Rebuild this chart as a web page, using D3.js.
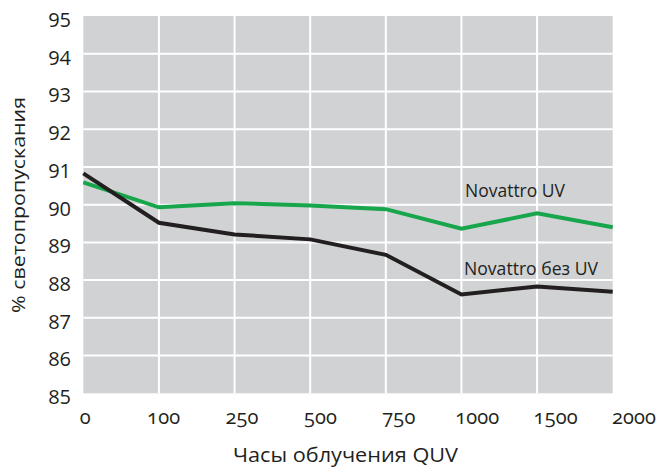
<!DOCTYPE html>
<html><head><meta charset="utf-8">
<script src="https://cdn.jsdelivr.net/npm/d3@7"></script>
<style>
body{margin:0;background:#fff;}
svg text{font-family:"Open Sans",sans-serif;fill:#231f20;}
.xt text{font-variant-numeric:oldstyle-nums;font-feature-settings:"onum" 1;}
</style></head>
<body><svg id="c" width="662" height="469"></svg>
<script>
const categories = ["0","100","250","500","750","1000","1500","2000"];
const novattroUV = [90.59, 89.93, 90.04, 89.98, 89.88, 89.36, 89.77, 89.40];
const novattroNoUV = [90.83, 89.52, 89.21, 89.08, 88.67, 87.62, 87.83, 87.69];
const yTicks = [85,86,87,88,89,90,91,92,93,94,95];
const seriesNames = ["Novattro UV", "Novattro без UV"];
const yTitle = "% светопропускания";
const xTitle = "Часы облучения QUV";

const svg = d3.select("#c");
const L = 83.3, R = 612.7, T = 16, B = 393.3;
const x = d3.scalePoint().domain(categories).range([L, R]);
const xl = d3.scalePoint().domain(categories).range([84.7, 633.5]);
const y = d3.scaleLinear().domain([85, 95]).range([B, T]);

svg.append("rect").attr("x", L).attr("y", T).attr("width", R - L).attr("height", B - T).attr("fill", "#d1d2d4");

// grid
svg.append("g").selectAll("line").data(categories.slice(1, -1)).join("line")
  .attr("x1", d => x(d)).attr("x2", d => x(d)).attr("y1", T).attr("y2", B)
  .attr("stroke", "#fff").attr("stroke-width", 2);
svg.append("g").selectAll("line").data(yTicks.slice(1, -1)).join("line")
  .attr("x1", L).attr("x2", R).attr("y1", d => y(d)).attr("y2", d => y(d))
  .attr("stroke", "#fff").attr("stroke-width", 2);

// y axis labels
const ya = svg.append("g").attr("transform", `translate(71,0)`)
  .call(d3.axisLeft(y).tickValues(yTicks).tickSize(0).tickPadding(0));
ya.select(".domain").remove();
ya.selectAll("text").attr("font-size", 20).attr("font-family", "Open Sans").attr("fill", "#231f20")
  .attr("dy", "0.52em");

// x axis labels
const xa = svg.append("g").attr("class", "xt").attr("transform", `translate(0,${B})`)
  .call(d3.axisBottom(xl).tickSize(0).tickPadding(0));
xa.select(".domain").remove();
xa.selectAll("text").attr("font-size", 20).attr("font-family", "Open Sans").attr("fill", "#231f20")
  .attr("dy", 0).attr("y", 31).attr("textLength", d => d.length * 11);

// lines
const line = d3.line().x((d, i) => x(categories[i])).y(d => y(d));
svg.append("path").datum(novattroUV).attr("d", line).attr("fill", "none")
  .attr("stroke", "#17a64b").attr("stroke-width", 4).attr("stroke-linejoin", "miter");
svg.append("path").datum(novattroNoUV).attr("d", line).attr("fill", "none")
  .attr("stroke", "#231f20").attr("stroke-width", 4).attr("stroke-linejoin", "miter");

// series labels
svg.append("text").attr("x", 465).attr("y", 197).attr("font-size", 18)
  .attr("textLength", 100).attr("lengthAdjust", "spacingAndGlyphs").text(seriesNames[0]);
svg.append("text").attr("x", 464).attr("y", 275).attr("font-size", 18)
  .attr("textLength", 134).attr("lengthAdjust", "spacingAndGlyphs").text(seriesNames[1]);

// titles
svg.append("text").attr("transform", "translate(25,205) rotate(-90)").attr("text-anchor", "middle")
  .attr("font-size", 19).attr("textLength", 216).attr("lengthAdjust", "spacingAndGlyphs").text(yTitle);
svg.append("text").attr("x", 345.5).attr("y", 462).attr("text-anchor", "middle")
  .attr("font-size", 20).attr("textLength", 225).attr("lengthAdjust", "spacingAndGlyphs").text(xTitle);
</script></body></html>
